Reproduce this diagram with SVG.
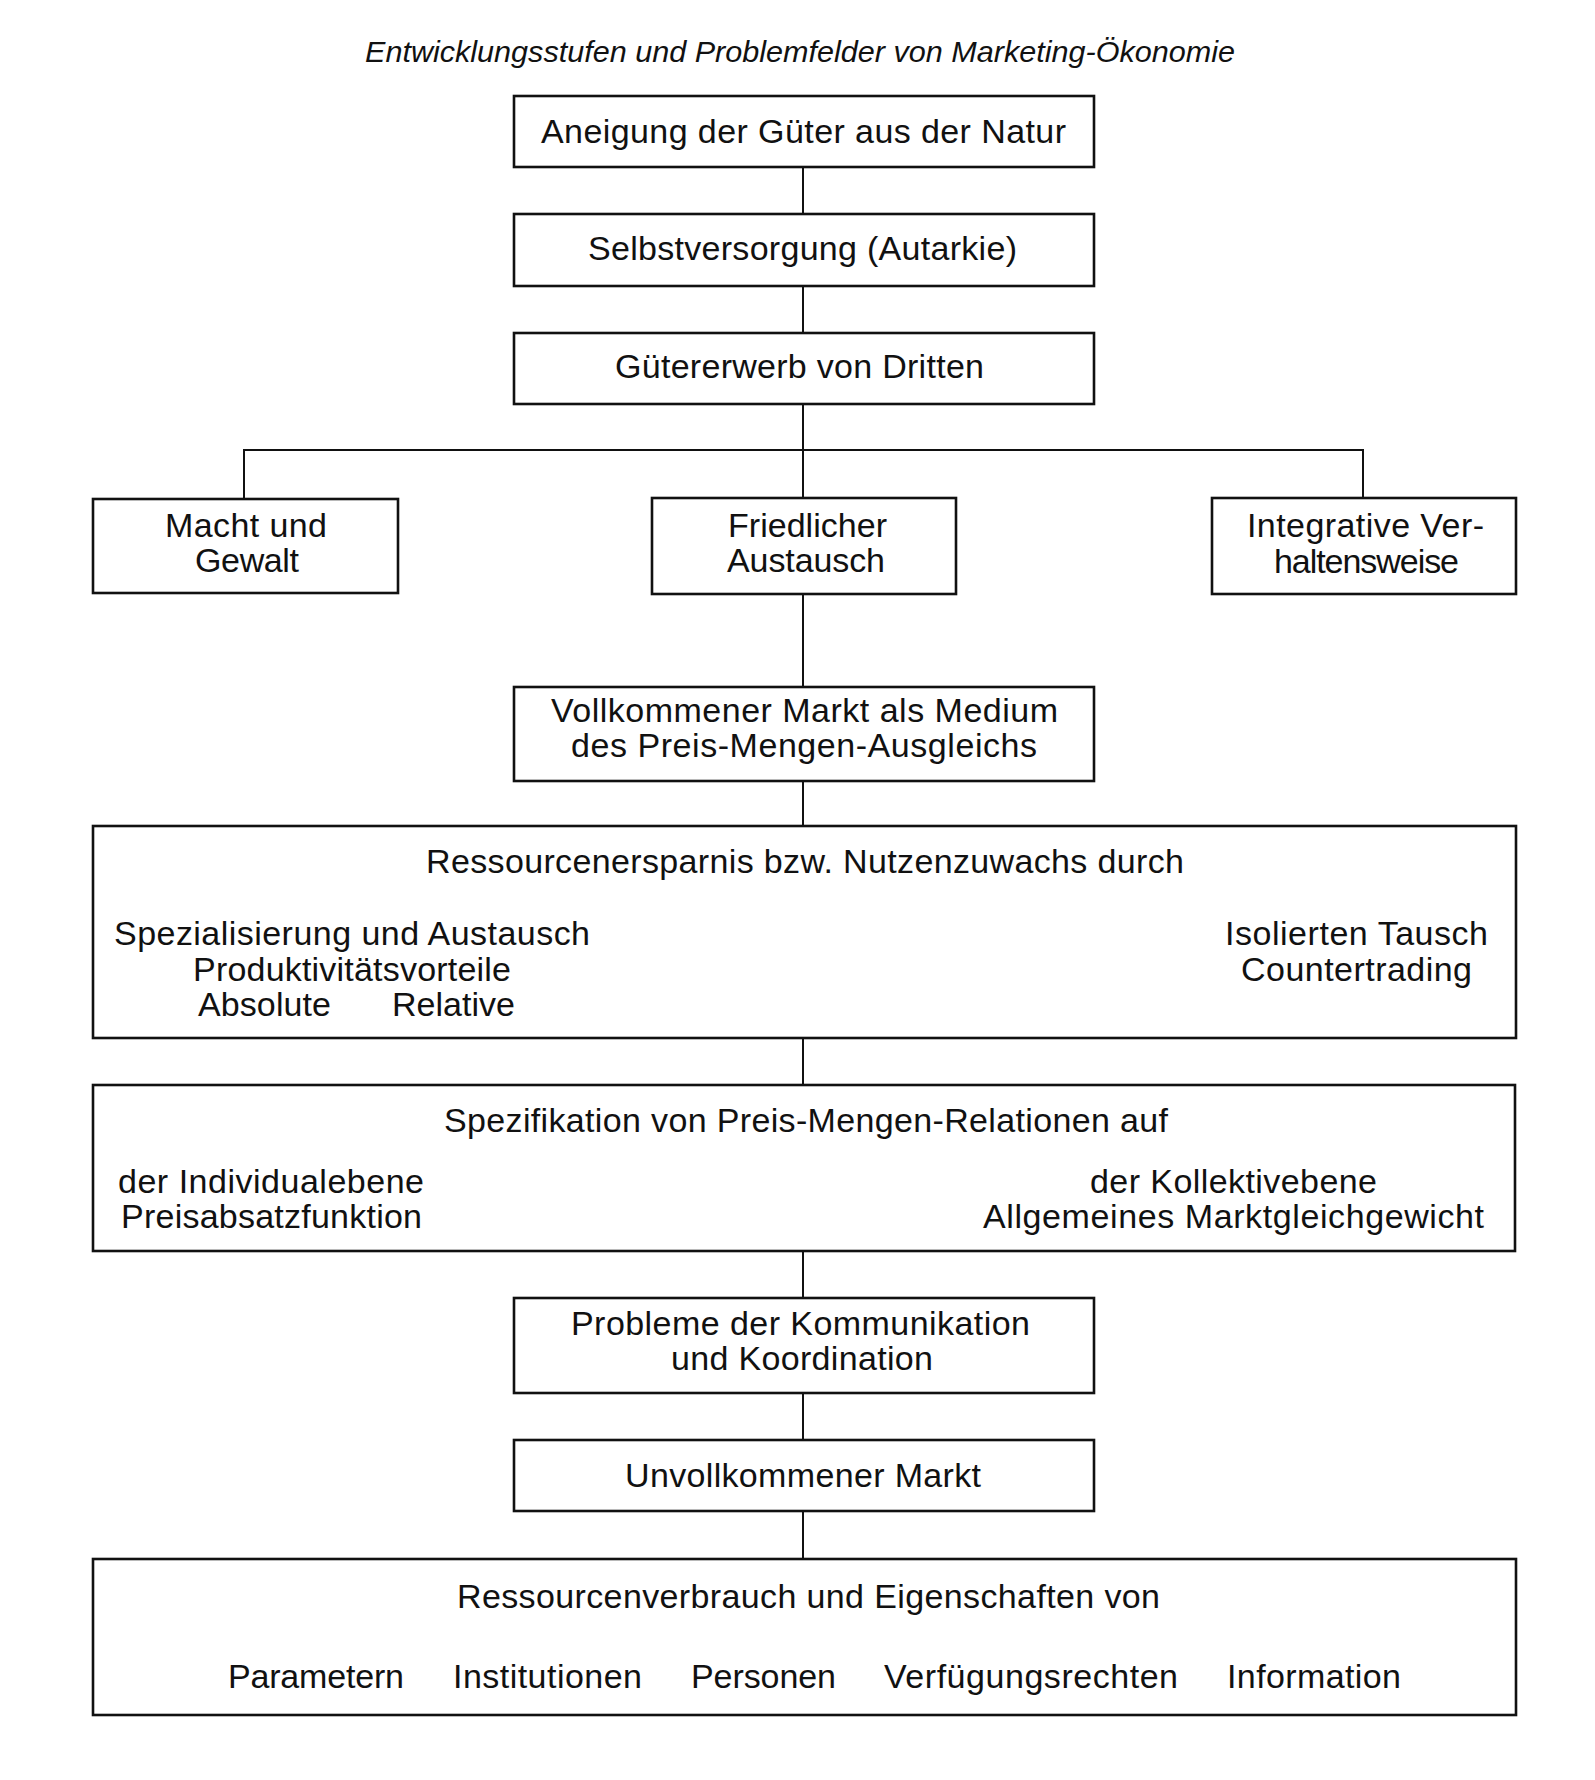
<svg xmlns="http://www.w3.org/2000/svg" width="1595" height="1780" viewBox="0 0 1595 1780">
<style>
.box{fill:#fff;stroke:#111;stroke-width:2.6}
.c{stroke:#111;stroke-width:2;fill:none}
text{font-family:"Liberation Sans",Arial,sans-serif;font-size:34px;fill:#111}
.t{font-style:italic;font-size:30px}
</style>
<rect width="1595" height="1780" fill="#fff"/>
<text class="t" x="365" y="62" textLength="870" lengthAdjust="spacingAndGlyphs">Entwicklungsstufen und Problemfelder von Marketing-Ökonomie</text>
<g id="connectors">
<line class="c" x1="803" y1="167" x2="803" y2="214"/>
<line class="c" x1="803" y1="286" x2="803" y2="333"/>
<line class="c" x1="803" y1="404" x2="803" y2="498"/>
<polyline class="c" points="244,499 244,450 1363,450 1363,498"/>
<line class="c" x1="803" y1="594" x2="803" y2="687"/>
<line class="c" x1="803" y1="781" x2="803" y2="826"/>
<line class="c" x1="803" y1="1038" x2="803" y2="1085"/>
<line class="c" x1="803" y1="1251" x2="803" y2="1298"/>
<line class="c" x1="803" y1="1393" x2="803" y2="1440"/>
<line class="c" x1="803" y1="1511" x2="803" y2="1559"/>
</g>
<g id="n1"><rect class="box" x="514" y="96" width="580" height="71"/>
<text x="541" y="143" textLength="525">Aneigung der Güter aus der Natur</text></g>
<g id="n2"><rect class="box" x="514" y="214" width="580" height="72"/>
<text x="588" y="260" textLength="429">Selbstversorgung (Autarkie)</text></g>
<g id="n3"><rect class="box" x="514" y="333" width="580" height="71"/>
<text x="615" y="378" textLength="369">Gütererwerb von Dritten</text></g>
<g id="n4"><rect class="box" x="93" y="499" width="305" height="94"/>
<text x="165" y="537" textLength="162">Macht und</text>
<text x="195" y="572" textLength="104">Gewalt</text></g>
<g id="n5"><rect class="box" x="652" y="498" width="304" height="96"/>
<text x="728" y="537" textLength="159">Friedlicher</text>
<text x="727" y="572" textLength="158">Austausch</text></g>
<g id="n6"><rect class="box" x="1212" y="498" width="304" height="96"/>
<text x="1247" y="537" textLength="237">Integrative Ver-</text>
<text x="1274" y="573" textLength="185">haltensweise</text></g>
<g id="n7"><rect class="box" x="514" y="687" width="580" height="94"/>
<text x="551" y="722" textLength="507">Vollkommener Markt als Medium</text>
<text x="571" y="757" textLength="466">des Preis-Mengen-Ausgleichs</text></g>
<g id="n8"><rect class="box" x="93" y="826" width="1423" height="212"/>
<text x="426" y="873" textLength="758">Ressourcenersparnis bzw. Nutzenzuwachs durch</text>
<text x="114" y="945" textLength="476">Spezialisierung und Austausch</text>
<text x="193" y="981" textLength="318">Produktivitätsvorteile</text>
<text x="198" y="1016" textLength="133">Absolute</text>
<text x="392" y="1016" textLength="123">Relative</text>
<text x="1225" y="945" textLength="263">Isolierten Tausch</text>
<text x="1241" y="981" textLength="231">Countertrading</text></g>
<g id="n9"><rect class="box" x="93" y="1085" width="1422" height="166"/>
<text x="444" y="1132" textLength="724">Spezifikation von Preis-Mengen-Relationen auf</text>
<text x="118" y="1193" textLength="306">der Individualebene</text>
<text x="121" y="1228" textLength="301">Preisabsatzfunktion</text>
<text x="1090" y="1193" textLength="287">der Kollektivebene</text>
<text x="983" y="1228" textLength="501">Allgemeines Marktgleichgewicht</text></g>
<g id="n10"><rect class="box" x="514" y="1298" width="580" height="95"/>
<text x="571" y="1335" textLength="459">Probleme der Kommunikation</text>
<text x="671" y="1370" textLength="262">und Koordination</text></g>
<g id="n11"><rect class="box" x="514" y="1440" width="580" height="71"/>
<text x="625" y="1487" textLength="356">Unvollkommener Markt</text></g>
<g id="n12"><rect class="box" x="93" y="1559" width="1423" height="156"/>
<text x="457" y="1608" textLength="703">Ressourcenverbrauch und Eigenschaften von</text>
<text x="228" y="1688" textLength="176">Parametern</text>
<text x="453" y="1688" textLength="189">Institutionen</text>
<text x="691" y="1688" textLength="145">Personen</text>
<text x="884" y="1688" textLength="294">Verfügungsrechten</text>
<text x="1227" y="1688" textLength="174">Information</text></g>
</svg>
